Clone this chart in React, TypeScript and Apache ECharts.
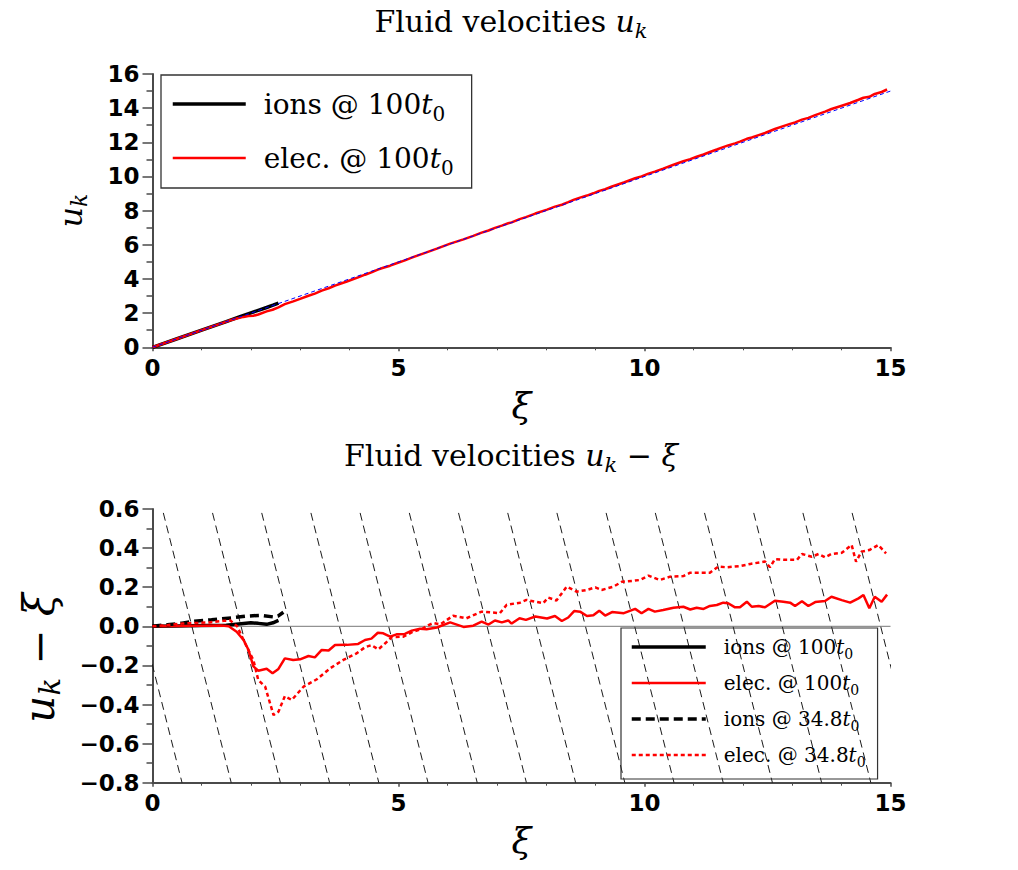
import React, { useEffect, useRef } from 'react';
import * as echarts from 'echarts';

// ---------- data: [xi, u_k - xi] ----------
const ION_100: number[][] = [
  [0, 0], [0.5, 0.002], [1.0, 0.004], [1.5, 0.006], [1.75, 0.012], [2.0, 0.018],
  [2.15, 0.015], [2.32, 0.01], [2.45, 0.018], [2.56, 0.03],
];

const ION_348: number[][] = [
  [0, 0], [0.3, 0.008], [0.6, 0.016], [0.85, 0.026], [1.2, 0.033], [1.6, 0.043],
  [1.9, 0.052], [2.2, 0.056], [2.45, 0.048], [2.55, 0.052], [2.66, 0.072],
];

const ELEC_100: number[][] = [
  [0, 0], [0.5, 0.002], [1.0, 0.003], [1.4, 0.004], [1.55, 0.0], [1.71, -0.028], [1.85, -0.07],
  [1.95, -0.12], [2.05, -0.205], [2.15, -0.227], [2.32, -0.217], [2.44, -0.24], [2.56, -0.218],
  [2.69, -0.164], [2.86, -0.172], [3.0, -0.169], [3.17, -0.152], [3.3, -0.159], [3.44, -0.121],
  [3.58, -0.124], [3.71, -0.096], [3.95, -0.095], [4.18, -0.09], [4.32, -0.07], [4.45, -0.063],
  [4.58, -0.033], [4.69, -0.036], [4.83, -0.053], [4.96, -0.041], [5.13, -0.039], [5.27, -0.022],
  [5.44, -0.012], [5.57, -0.015], [5.78, -0.006], [6.05, 0.02], [6.32, -0.003], [6.52, 0.003],
  [6.69, 0.024], [6.83, 0.009], [6.96, 0.03], [7.1, 0.02], [7.23, 0.03], [7.3, 0.014],
  [7.46, 0.041], [7.59, 0.033], [7.78, 0.05], [8.02, 0.04], [8.18, 0.053], [8.32, 0.027],
  [8.45, 0.045], [8.57, 0.078], [8.69, 0.075], [8.83, 0.053], [8.96, 0.056], [9.08, 0.08],
  [9.2, 0.055], [9.34, 0.073], [9.58, 0.067], [9.81, 0.089], [9.94, 0.067], [10.08, 0.089],
  [10.21, 0.075], [10.38, 0.083], [10.59, 0.095], [10.79, 0.1], [10.93, 0.086], [11.06, 0.095],
  [11.2, 0.089], [11.33, 0.104], [11.47, 0.109], [11.6, 0.121], [11.7, 0.118], [11.84, 0.097],
  [11.94, 0.097], [12.08, 0.126], [12.18, 0.1], [12.32, 0.104], [12.45, 0.097], [12.65, 0.131],
  [12.82, 0.126], [12.96, 0.121], [13.06, 0.104], [13.2, 0.128], [13.33, 0.104], [13.47, 0.124],
  [13.67, 0.129], [13.8, 0.151], [14.01, 0.134], [14.18, 0.121], [14.35, 0.143], [14.45, 0.16],
  [14.57, 0.092], [14.68, 0.151], [14.82, 0.126], [14.93, 0.162],
];

const ELEC_348: number[][] = [
  [0, 0], [0.3, 0.006], [0.61, 0.014], [1.16, 0.02], [1.45, 0.028], [1.58, 0.03], [1.72, 0.0],
  [1.85, -0.07], [1.98, -0.138], [2.05, -0.172], [2.15, -0.275], [2.29, -0.309], [2.46, -0.454],
  [2.56, -0.437], [2.69, -0.357], [2.83, -0.377], [3.07, -0.309], [3.34, -0.271], [3.61, -0.215],
  [3.88, -0.172], [4.15, -0.138], [4.32, -0.107], [4.45, -0.096], [4.59, -0.118], [4.73, -0.087],
  [4.86, -0.056], [5.1, -0.053], [5.3, -0.027], [5.47, -0.015], [5.6, 0.005], [5.71, 0.017],
  [5.85, 0.01], [6.11, 0.054], [6.38, 0.041], [6.69, 0.075], [7.06, 0.067], [7.2, 0.11],
  [7.47, 0.121], [7.6, 0.135], [7.94, 0.118], [8.04, 0.147], [8.21, 0.132], [8.42, 0.203],
  [8.62, 0.177], [8.83, 0.186], [9.0, 0.199], [9.13, 0.186], [9.37, 0.203], [9.54, 0.228],
  [9.78, 0.233], [9.91, 0.237], [10.08, 0.259], [10.31, 0.237], [10.52, 0.254], [10.79, 0.257],
  [10.93, 0.274], [11.33, 0.274], [11.5, 0.305], [11.67, 0.302], [11.94, 0.308], [12.15, 0.319],
  [12.45, 0.331], [12.55, 0.302], [12.65, 0.343], [12.82, 0.34], [13.1, 0.34], [13.2, 0.37],
  [13.4, 0.356], [13.54, 0.37], [13.67, 0.353], [13.8, 0.37], [14.01, 0.376], [14.21, 0.416],
  [14.3, 0.33], [14.41, 0.382], [14.57, 0.39], [14.75, 0.416], [14.91, 0.373],
];

// reference line u = xi in the top panel
const REF_LINE: number[][] = [[0, 0], [15, 15]];
// zero line in the bottom panel
const ZERO_LINE: number[][] = [[0, 0], [15, 0]];
// constant-u guide lines (value of u_k) in the bottom panel
const GUIDE_U: number[] = [-0.2, 0.8, 1.8, 2.8, 3.8, 4.8, 5.8, 6.8, 7.8, 8.8, 9.8, 10.8, 11.8, 12.8, 13.8, 14.8];
const GUIDE_TOP = 0.58;
const GUIDE_BOTTOM = -0.8;

const X_RANGE = [0, 15];
const TOP_Y_RANGE = [0, 16];
const BOT_Y_RANGE = [-0.8, 0.6];

const LEGEND_LABELS: Record<string, string> = {
  u_ions100: '{r|ions @ 100}{i|t}{n|0}',
  u_elec100: '{r|elec. @ 100}{i|t}{n|0}',
  d_ions100: '{r|ions @ 100}{i|t}{n|0}',
  d_elec100: '{r|elec. @ 100}{i|t}{n|0}',
  d_ions348: '{r|ions @ 34.8}{i|t}{n|0}',
  d_elec348: '{r|elec. @ 34.8}{i|t}{n|0}',
};

const SERIF = 'DejaVu Serif';
const SANS = 'DejaVu Sans';

function richSet(size: number, lh: number, subSize: number) {
  return {
    r: { fontFamily: SERIF, fontWeight: 'normal', fontSize: size, lineHeight: lh, color: '#000' },
    i: { fontFamily: SERIF, fontWeight: 'normal', fontStyle: 'italic', fontSize: size, lineHeight: lh, color: '#000' },
    s: { fontFamily: SERIF, fontWeight: 'normal', fontStyle: 'italic', fontSize: subSize, lineHeight: subSize, verticalAlign: 'bottom', color: '#000' },
    n: { fontFamily: SERIF, fontWeight: 'normal', fontSize: subSize, lineHeight: subSize, verticalAlign: 'bottom', color: '#000' },
  };
}

const AXIS_COLOR = '#4a4a4a';

function xAxis(gridIndex: number) {
  return {
    type: 'value', gridIndex, min: X_RANGE[0], max: X_RANGE[1], interval: 5,
    axisLine: { show: true, onZero: false, lineStyle: { color: AXIS_COLOR, width: 2 } },
    axisTick: { show: true, length: 4, lineStyle: { color: AXIS_COLOR, width: 1.5 } },
    minorTick: { show: true, splitNumber: 5, length: 3, lineStyle: { color: AXIS_COLOR, width: 1 } },
    axisLabel: { margin: 9, fontFamily: SANS, fontWeight: 'bold', fontSize: 23, color: '#000' },
    splitLine: { show: false },
    name: '{x|ξ}', nameLocation: 'middle', nameGap: 40,
    nameTextStyle: { rich: { x: { fontFamily: SERIF, fontStyle: 'italic', fontSize: 36, color: '#000' } } },
  };
}

function yAxis(gridIndex: number, range: number[], interval: number, fmt: (v: number) => string,
  name: string, nameGap: number, nameSize: number, namePad: number[]) {
  return {
    type: 'value', gridIndex, min: range[0], max: range[1], interval,
    axisLine: { show: true, onZero: false, lineStyle: { color: AXIS_COLOR, width: 2 } },
    axisTick: { show: true, length: 10, lineStyle: { color: AXIS_COLOR, width: 1.5 } },
    minorTick: { show: true, splitNumber: 2, length: 6, lineStyle: { color: AXIS_COLOR, width: 1.5 } },
    axisLabel: { margin: 13, fontFamily: SANS, fontWeight: 'bold', fontSize: 23, color: '#000', formatter: fmt },
    splitLine: { show: false },
    name, nameLocation: 'middle', nameGap,
    nameTextStyle: { padding: namePad, rich: richSet(nameSize, nameSize + 8, Math.round(nameSize * 0.7)) },
  };
}

function lineSeries(name: string, xi: number, data: any[], color: string, width: number, type: any, z: number) {
  return {
    name, type: 'line', xAxisIndex: xi, yAxisIndex: xi, data, symbol: 'none', showSymbol: false,
    lineStyle: { color, width, type }, itemStyle: { color }, z, silent: true, clip: true,
  };
}

export default function App() {
  const ref = useRef<HTMLDivElement>(null);
  useEffect(() => {
    if (!ref.current) return;
    const chart = echarts.init(ref.current, undefined, { renderer: 'svg' });

    const topIons = ION_100.map(([x, d]) => [x, x + d]);
    const topElec = ELEC_100.map(([x, d]) => [x, x + d]);

    const guides = GUIDE_U.map((c, k) =>
      lineSeries('guide' + k, 1, [[c - GUIDE_TOP, GUIDE_TOP], [c - GUIDE_BOTTOM, GUIDE_BOTTOM]], '#1a1a1a', 1, [8, 5], 1)
    );

    const legendCommon = {
      orient: 'vertical', selectedMode: false,
      itemStyle: { color: 'rgba(0,0,0,0)', borderColor: 'rgba(0,0,0,0)', borderWidth: 0 },
      lineStyle: { width: 'inherit', type: 'inherit', color: 'inherit' },
      formatter: (n: string) => LEGEND_LABELS[n],
    };

    const option: any = {
      animation: false,
      backgroundColor: '#fff',
      title: [
        {
          text: '{r|Fluid velocities }{i|u}{s|k}', left: 511, top: 1, textAlign: 'center', padding: 0,
          textStyle: { fontWeight: 'normal', rich: richSet(30, 40, 21) },
        },
        {
          text: '{r|Fluid velocities }{i|u}{s|k}{r| − }{i|ξ}', left: 511, top: 435, textAlign: 'center', padding: 0,
          textStyle: { fontWeight: 'normal', rich: richSet(30, 40, 21) },
        },
      ],
      grid: [
        { left: 152.5, right: 127.5, top: 74, bottom: 522.7, containLabel: false },
        { left: 152.5, right: 127.5, top: 509, bottom: 87.3, containLabel: false },
      ],
      xAxis: [xAxis(0), xAxis(1)],
      yAxis: [
        yAxis(0, TOP_Y_RANGE, 2, (v: number) => String(v), '{i|u}{s|k}', 62, 32, [0, 0, 0, 0]),
        yAxis(1, BOT_Y_RANGE, 0.2, (v: number) => v.toFixed(1).replace('-', '−'), '{i|u}{s|k}{r| − }{i|ξ}', 88, 42, [0, 24, 0, 0]),
      ],
      legend: [
        {
          ...legendCommon,
          data: ['u_ions100', 'u_elec100'], left: 161, top: 75,
          itemWidth: 73, itemHeight: 14, itemGap: 20, padding: [15, 18, 10, 10],
          borderColor: '#333', borderWidth: 1.3, backgroundColor: '#fff',
          textStyle: { padding: [0, 0, 0, 13], rich: richSet(28, 40, 20) },
        },
        {
          ...legendCommon,
          data: ['d_ions100', 'd_elec100', 'd_ions348', 'd_elec348'], left: 621, top: 628,
          itemWidth: 74, itemHeight: 12, itemGap: 12, padding: [9, 12, 10, 9],
          borderColor: '#333', borderWidth: 1.2,
          textStyle: { padding: [0, 0, 0, 13], rich: richSet(20, 28, 14) },
        },
      ],
      series: [
        lineSeries('u_ions100', 0, topIons, '#000', 3.5, 'solid', 2),
        lineSeries('u_elec100', 0, topElec, '#ff0000', 2.5, 'solid', 3),
        lineSeries('u_ref', 0, REF_LINE, '#0000ff', 1, [4, 3], 4),
        ...guides,
        lineSeries('zero', 1, ZERO_LINE, '#777', 1, 'solid', 1),
        lineSeries('d_ions100', 1, ION_100, '#000', 3.5, 'solid', 3),
        lineSeries('d_elec100', 1, ELEC_100, '#ff0000', 2.5, 'solid', 3),
        lineSeries('d_ions348', 1, ION_348, '#000', 3.5, [9, 5], 4),
        lineSeries('d_elec348', 1, ELEC_348, '#ff0000', 2.5, [4, 3], 4),
      ],
    };
    chart.setOption(option);
    return () => chart.dispose();
  }, []);
  return <div ref={ref} style={{ position: 'fixed', left: 0, top: 0, width: 1018, height: 870 }} />;
}
